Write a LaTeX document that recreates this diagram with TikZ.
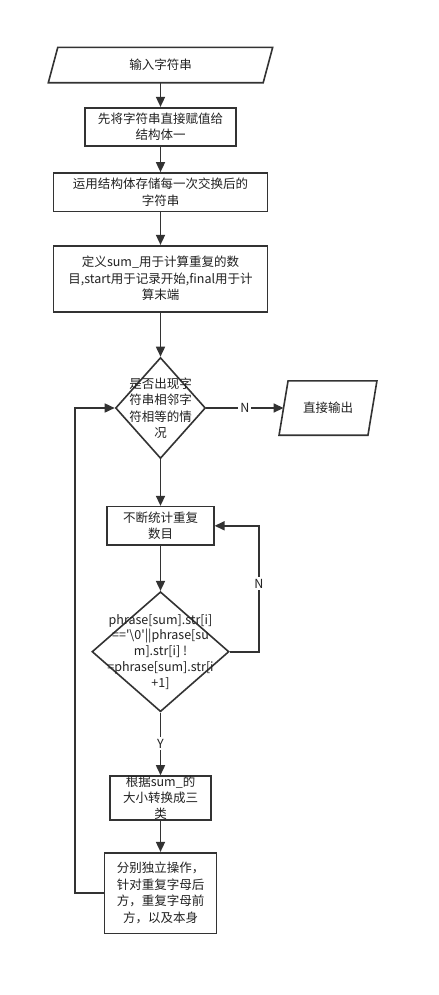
\documentclass[tikz,border=0pt]{standalone}
\usepackage{fontspec}
\newfontfamily\cjk{Noto Sans CJK SC}
\usetikzlibrary{arrows.meta,shapes.geometric}
\definecolor{ln}{HTML}{333333}
\definecolor{tx}{HTML}{222222}
\begin{document}
\begin{tikzpicture}[x=1bp,y=-1bp,
  line/.style={draw=ln, line width=1.6bp},
  arr/.style={line, -{Triangle[length=10bp,width=9bp]}},
  box/.style={rectangle, draw=ln, line width=1.6bp, inner sep=0pt, fill=white},
  dia/.style={diamond, draw=ln, line width=1.6bp, inner sep=0pt, fill=white},
  para/.style={rectangle, draw=none, inner sep=0pt},
  txt/.style={font=\cjk\fontsize{12.5bp}{16.5bp}\selectfont, align=center, text=tx, inner sep=0pt},
  lbl/.style={font=\cjk\fontsize{12.5bp}{15bp}\selectfont, text=tx, fill=white, inner sep=2bp}
]
\useasboundingbox[fill=white] (0,0) rectangle (439,995);

% shapes
\node[para, minimum width=214.5bp, minimum height=35bp] (in) at (160.5,65) {};
\draw[line] ([xshift=-4.75bp]in.south west) -- ([xshift=4.75bp]in.north west)
  -- ([xshift=4.75bp]in.north east) -- ([xshift=-4.75bp]in.south east) -- cycle;
\node[box, minimum width=151bp, minimum height=38bp] (b2) at (160.5,126.7) {};
\node[box, minimum width=213.7bp, minimum height=38.7bp] (b3) at (160.5,192.3) {};
\node[box, minimum width=213.7bp, minimum height=66bp] (b4) at (160.5,278.7) {};
\node[dia, minimum width=90bp, minimum height=101bp] (d1) at (160.5,408) {};
\node[para, minimum width=88.5bp, minimum height=54bp] (out) at (328,408) {};
\draw[line] ([xshift=-4.5bp]out.south west) -- ([xshift=4.5bp]out.north west)
  -- ([xshift=4.5bp]out.north east) -- ([xshift=-4.5bp]out.south east) -- cycle;
\node[box, minimum width=106.6bp, minimum height=38.3bp] (b5) at (160.5,525.8) {};
\node[dia, minimum width=137bp, minimum height=120bp] (d2) at (160.5,651.7) {};
\node[box, minimum width=101bp, minimum height=44bp] (b6) at (160.5,798) {};
\node[box, minimum width=111.7bp, minimum height=80.6bp] (b7) at (160.5,893) {};

% texts
\node[txt] (t1) at (in.center) {输入字符串};
\node[txt] (t2) at (b2.center) {先将字符串直接赋值给\\结构体一};
\node[txt] (t3) at (b3.center) {运用结构体存储每一次交换后的\\字符串};
\node[txt] (t4) at (b4.center) {定义sum\_用于计算重复的数\\目,start用于记录开始,final用于计\\算末端};
\node[txt] (t5) at (d1.center) {是否出现字\\符串相邻字\\符相等的情\\况};
\node[txt] (t6) at (out.center) {直接输出};
\node[txt] (t7) at (b5.center) {不断统计重复\\数目};
\node[txt, font=\cjk\fontsize{12.5bp}{15.7bp}\selectfont] (t8) at (d2.center) {phrase[sum].str[i]\\=='\textbackslash 0'||phrase[su\\m].str[i] !\\=phrase[sum].str[i\\+1]};
\node[txt, font=\cjk\fontsize{12.5bp}{16bp}\selectfont] (t9) at (b6.center) {根据sum\_的\\大小转换成三\\类};
\node[txt] (t10) at (b7.center) {分别独立操作，\\针对重复字母后\\方，重复字母前\\方，以及本身};

% connectors
\draw[arr] (in.south) -- (b2.north);
\draw[arr] (b2.south) -- (b3.north);
\draw[arr] (b3.south) -- (b4.north);
\draw[arr] (b4.south) -- (d1.north);
\draw[arr] (d1.east) -- node[lbl] (n1) {N} (out.west);
\draw[arr] (d1.south) -- (b5.north);
\draw[arr] (b5.south) -- (d2.north);
\draw[arr] (d2.south) -- node[lbl] (y1) {Y} (b6.north);
\draw[arr] (b6.south) -- (b7.north);
\coordinate (L) at (75,893);
\draw[arr] (b7.west) -- (L) |- (d1.west);
\coordinate (R) at (259,651.7);
\draw[arr] (d2.east) -- (R) |- node[lbl, pos=0.27] (n2) {N} (b5.east);
\end{tikzpicture}
\end{document}
